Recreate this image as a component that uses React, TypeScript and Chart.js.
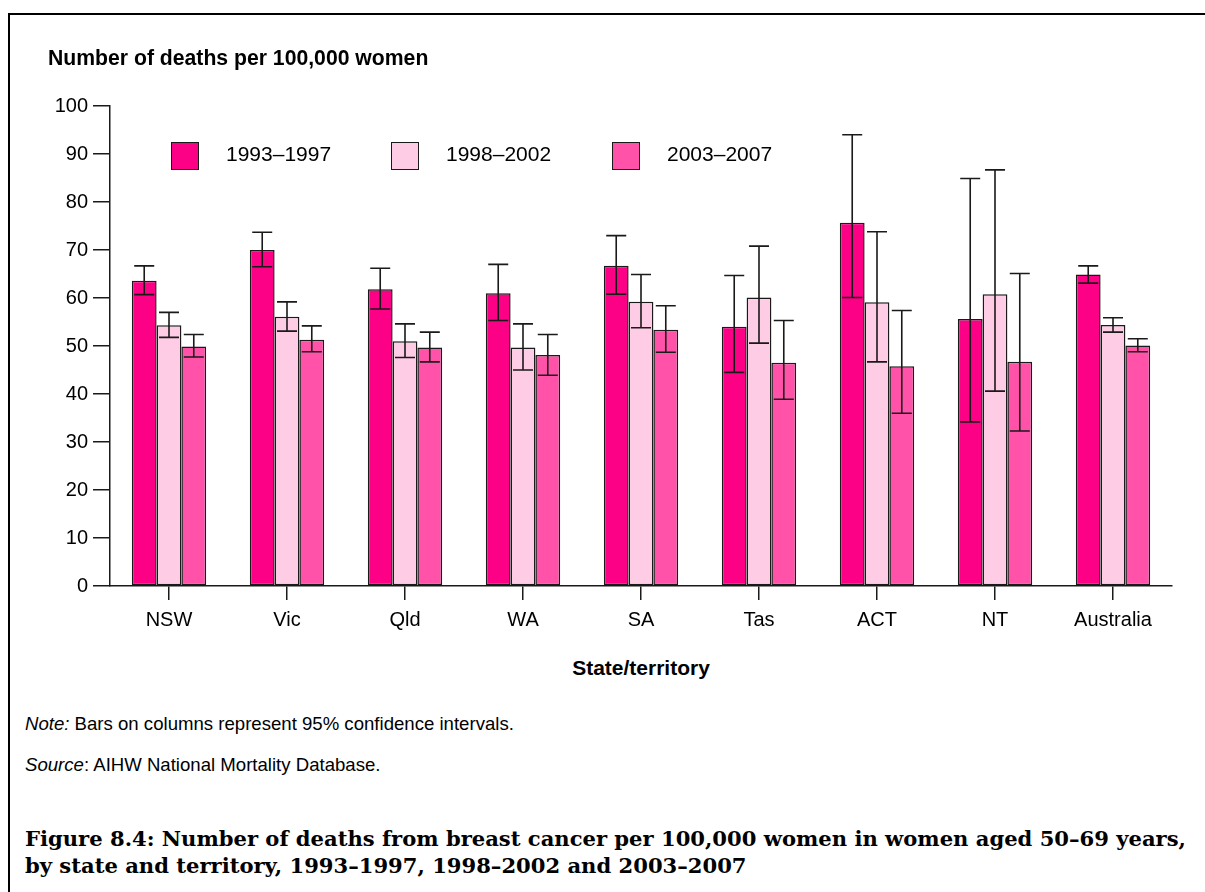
import React, { useEffect, useRef } from "react";
import { Chart, registerables } from "chart.js";

Chart.register(...registerables);

const categories = ["NSW", "Vic", "Qld", "WA", "SA", "Tas", "ACT", "NT", "Australia"];
const seriesNames = ["1993–1997", "1998–2002", "2003–2007"];
const colors = ["#FC0085", "#FFCCE6", "#FF52A8"];

const rates9397 = [63.6, 70.0, 61.8, 61.0, 66.7, 54.0, 75.7, 55.6, 64.9];
const low9397 = [60.7, 66.5, 57.7, 55.3, 60.8, 44.5, 60.1, 34.2, 63.1];
const high9397 = [66.7, 73.7, 66.2, 67.0, 73.0, 64.7, 94.0, 84.9, 66.7];

const rates9802 = [54.3, 56.1, 51.0, 49.7, 59.2, 60.1, 59.1, 60.8, 54.4];
const low9802 = [51.8, 53.1, 47.6, 45.0, 53.8, 50.6, 46.7, 40.6, 52.9];
const high9802 = [57.0, 59.2, 54.6, 54.6, 64.9, 70.8, 73.8, 86.7, 55.9];

const rates0307 = [49.9, 51.3, 49.7, 48.1, 53.4, 46.5, 45.8, 46.7, 50.1];
const low0307 = [47.7, 48.8, 46.7, 43.9, 48.7, 38.9, 36.0, 32.3, 48.8];
const high0307 = [52.4, 54.2, 52.9, 52.4, 58.4, 55.3, 57.4, 65.1, 51.5];

const yTicks = [0, 10, 20, 30, 40, 50, 60, 70, 80, 90, 100];

const FONT = "'Liberation Sans', Arial, sans-serif";

const errorBarPlugin = {
  id: "errorBars",
  afterDatasetsDraw(chart: any) {
    const ctx = chart.ctx;
    const yScale = chart.scales.y;
    chart.data.datasets.forEach((ds: any, i: number) => {
      const meta = chart.getDatasetMeta(i);
      meta.data.forEach((el: any, j: number) => {
        const x = el.x;
        const yHi = yScale.getPixelForValue(ds.errHigh[j]);
        const yLo = yScale.getPixelForValue(ds.errLow[j]);
        ctx.save();
        ctx.strokeStyle = "#1a1a1a";
        ctx.lineWidth = 1.6;
        ctx.beginPath();
        ctx.moveTo(x, yHi);
        ctx.lineTo(x, yLo);
        ctx.moveTo(x - 10, yHi);
        ctx.lineTo(x + 10, yHi);
        ctx.moveTo(x - 10, yLo);
        ctx.lineTo(x + 10, yLo);
        ctx.stroke();
        ctx.restore();
      });
    });
  },
};

export default function App() {
  const canvasRef = useRef<HTMLCanvasElement | null>(null);

  useEffect(() => {
    if (!canvasRef.current) return;
    const rates = [rates9397, rates9802, rates0307];
    const lows = [low9397, low9802, low0307];
    const highs = [high9397, high9802, high0307];
    const chart = new Chart(canvasRef.current, {
      type: "bar",
      data: {
        labels: categories,
        datasets: seriesNames.map((name, i) => ({
          label: name,
          data: rates[i],
          errLow: lows[i],
          errHigh: highs[i],
          backgroundColor: colors[i],
          borderColor: "#1a1a1a",
          borderWidth: 1.5,
          borderSkipped: false,
          barPercentage: 1,
          categoryPercentage: 0.63,
        })) as any,
      },
      options: {
        animation: false,
        responsive: false,
        maintainAspectRatio: false,
        layout: { padding: { top: 106, right: 33, left: 0, bottom: 0 } },
        plugins: { legend: { display: false }, tooltip: { enabled: false } },
        scales: {
          x: {
            offset: true,
            grid: {
              offset: false,
              drawOnChartArea: false,
              drawTicks: true,
              tickLength: 14,
              color: "#1a1a1a",
              lineWidth: 1.5,
            },
            border: { display: true, color: "#1a1a1a", width: 1.5 },
            ticks: { color: "#000", font: { family: FONT, size: 20 }, padding: 8 },
            afterFit(scale: any) {
              scale.height = 54;
            },
          },
          y: {
            min: 0,
            max: 100,
            afterBuildTicks(scale: any) {
              scale.ticks = yTicks.map((v) => ({ value: v }));
            },
            grid: {
              drawOnChartArea: false,
              drawTicks: true,
              tickLength: 17,
              color: "#1a1a1a",
              lineWidth: 1.5,
            },
            border: { display: true, color: "#1a1a1a", width: 1.5 },
            ticks: { color: "#000", font: { family: FONT, size: 20 }, padding: 5 },
            afterFit(scale: any) {
              scale.width = 110;
            },
          },
        },
      },
      plugins: [errorBarPlugin],
    } as any);
    return () => chart.destroy();
  }, []);

  const legendX = [171, 391, 612];

  return (
    <div
      style={{
        position: "fixed",
        left: 0,
        top: 0,
        width: 1205,
        height: 892,
        overflow: "hidden",
        background: "#fff",
        fontFamily: FONT,
      }}
    >
      <div
        style={{
          position: "absolute",
          left: 8,
          top: 13,
          width: 1300,
          height: 1000,
          borderTop: "2px solid #000",
          borderLeft: "2px solid #000",
        }}
      />
      <canvas
        ref={canvasRef}
        width={1205}
        height={640}
        style={{ position: "absolute", left: 0, top: 0, width: 1205, height: 640 }}
      />
      <div
        style={{
          position: "absolute",
          left: 48,
          top: 46,
          fontSize: 21.2,
          fontWeight: "bold",
          whiteSpace: "nowrap",
          lineHeight: "24px",
        }}
      >
        Number of deaths per 100,000 women
      </div>
      {seriesNames.map((name, i) => (
        <div key={name}>
          <div
            style={{
              position: "absolute",
              left: legendX[i],
              top: 142,
              width: 26,
              height: 26,
              background: colors[i],
              border: "1.5px solid #1a1a1a",
            }}
          />
          <div
            style={{
              position: "absolute",
              left: legendX[i] + 55,
              top: 142,
              fontSize: 21,
              lineHeight: "24px",
              whiteSpace: "nowrap",
            }}
          >
            {name}
          </div>
        </div>
      ))}
      <div
        style={{
          position: "absolute",
          left: 110,
          width: 1062,
          top: 656,
          textAlign: "center",
          fontSize: 21,
          fontWeight: "bold",
          lineHeight: "24px",
        }}
      >
        State/territory
      </div>
      <div
        style={{ position: "absolute", left: 25, top: 714, fontSize: 18.6, lineHeight: "20px", whiteSpace: "nowrap" }}
      >
        <i>Note:</i> Bars on columns represent 95% confidence intervals.
      </div>
      <div
        style={{ position: "absolute", left: 25, top: 755, fontSize: 18.6, lineHeight: "20px", whiteSpace: "nowrap" }}
      >
        <i>Source</i>: AIHW National Mortality Database.
      </div>
      <div
        style={{
          position: "absolute",
          left: 25,
          top: 825,
          width: 1180,
          fontFamily: "'DejaVu Serif', 'Liberation Serif', serif",
          fontWeight: "bold",
          fontSize: 21.1,
          lineHeight: "27px",
          whiteSpace: "nowrap",
        }}
      >
        Figure 8.4: Number of deaths from breast cancer per 100,000 women in women aged 50–69 years,
        <br />
        by state and territory, 1993–1997, 1998–2002 and 2003–2007
      </div>
    </div>
  );
}
